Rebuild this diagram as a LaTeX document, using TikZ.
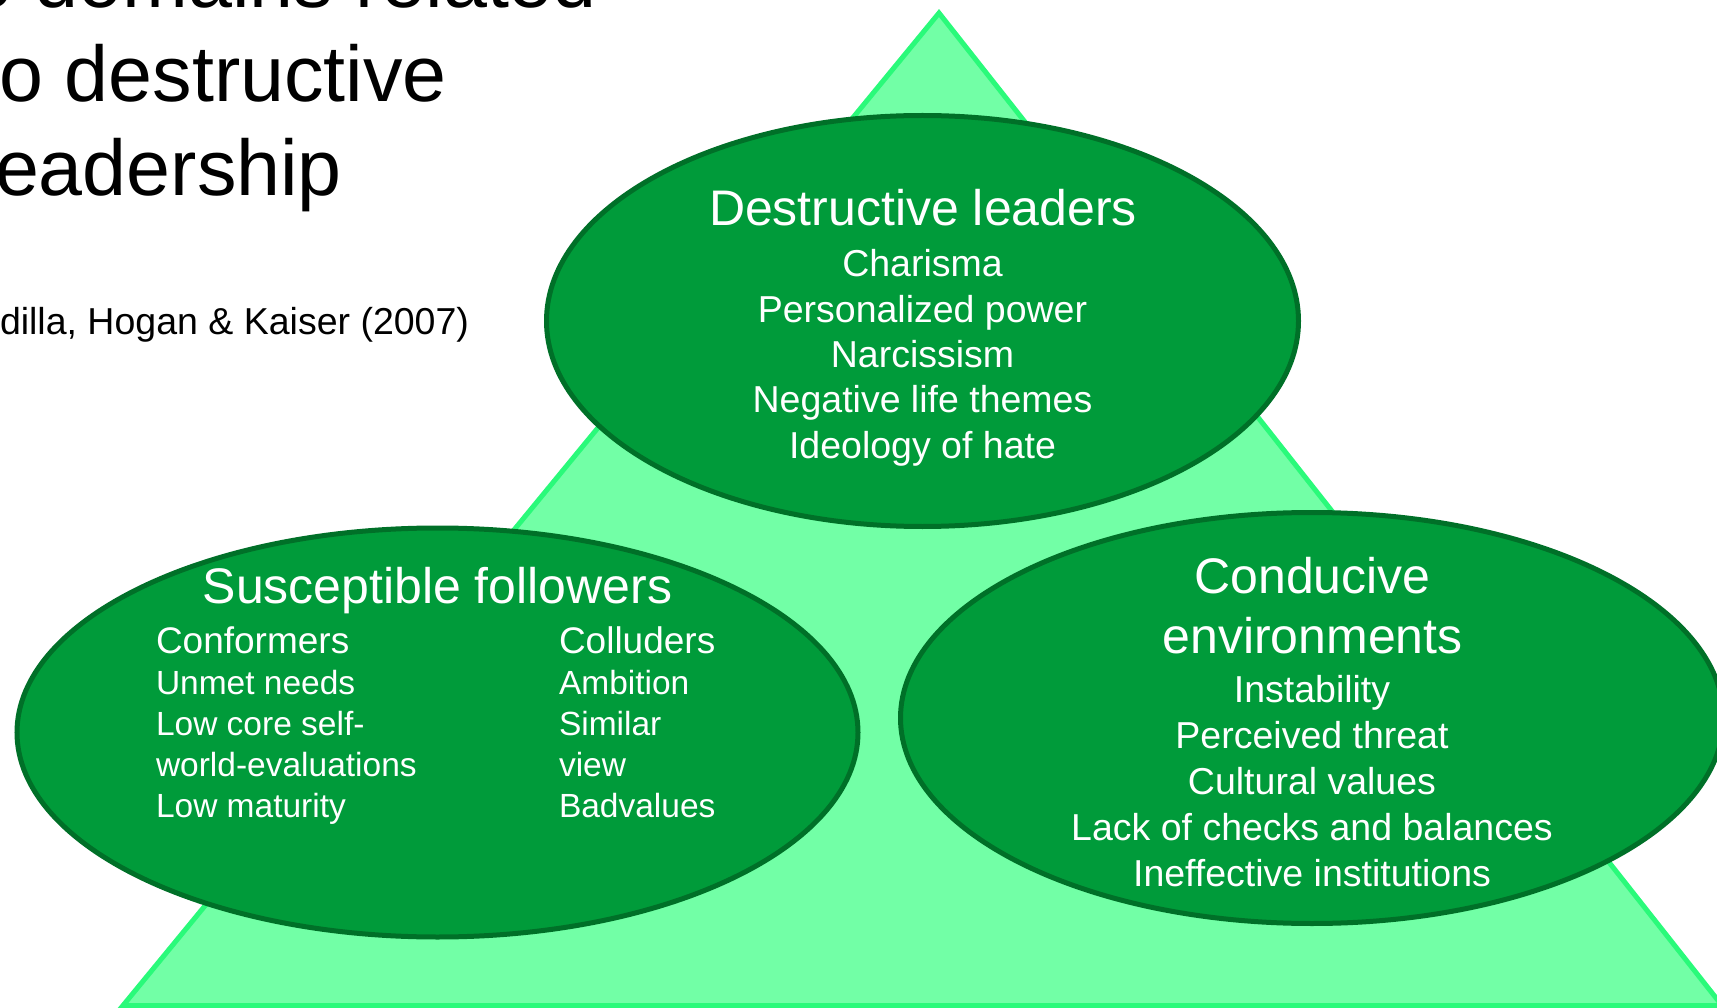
\documentclass[tikz,border=0pt]{standalone}
\usepackage{fontspec}
\setmainfont{Liberation Sans}
\usetikzlibrary{shapes.geometric}

\begin{document}
\begin{tikzpicture}[x=1pt, y=-1pt]
    \tikzstyle{every node} = [inner sep=0pt, outer sep=0pt, text=white]
    \tikzstyle{dom}  = [ellipse, draw=verdeinchis, fill=verde, line width=5pt]
    \tikzstyle{head} = [anchor=base, font=\fontsize{50}{60}\selectfont]
    \tikzstyle{itm}  = [anchor=base, font=\fontsize{37.5}{45}\selectfont]
    \tikzstyle{itmw} = [itm, anchor=base west]
    \tikzstyle{col}  = [anchor=base west, font=\fontsize{33.5}{40}\selectfont]
    \tikzstyle{colh} = [anchor=base west, font=\fontsize{37}{40}\selectfont]
    \tikzstyle{tlu}  = [anchor=base west, text=black, font=\fontsize{79}{94}\selectfont]

    \definecolor{triunghi}{RGB}{114,255,166}
    \definecolor{margine}{RGB}{42,250,122}
    \definecolor{verde}{RGB}{0,155,58}
    \definecolor{verdeinchis}{RGB}{0,112,40}

    \useasboundingbox (0,0) rectangle (1717,1008);
    \clip (0,0) rectangle (1717,1008);

    % title, cut by the page edge
    \node[tlu] (t1) at (-31,8) {e domains related};
    \node[tlu] (t2) at (-1,102) {o destructive};
    \node[tlu] (t3) at (-5,196) {eadership};
    \node[itmw, text=black] (cit) at (0,335) {dilla, Hogan \& Kaiser (2007)};

    % the triangle
    \draw[fill=triunghi, draw=margine, line width=5pt] (939,13) -- (1722,1005.5) -- (123,1005.5) -- cycle;

    % three domains
    \node[dom, minimum width=752pt, minimum height=411pt] (lead) at (922.5,321) {};
    \node[dom, minimum width=841pt, minimum height=409pt] (foll) at (437.5,732.5) {};
    \node[dom, minimum width=823pt, minimum height=411pt] (env) at (1312,718) {};

    \node[head] (lead-h) at (923,226) {Destructive leaders};
    \foreach[count=\i] \t in {Charisma, Personalized power, Narcissism, Negative life themes, Ideology of hate}
        \node[itm] (lead-\i) at (922.5,231.3+45.4*\i) {\t};

    \node[head] (foll-h) at (437.5,603) {Susceptible followers};
    \node[colh] (conf-1) at (156,653.5) {Conformers};
    \node[colh] (coll-1) at (559,653.5) {Colluders};
    \foreach[count=\i from 2] \t in {Unmet needs, Low core self-, world-evaluations, Low maturity}
        \node[col] (conf-\i) at (156,612.5+41*\i) {\t};
    \foreach[count=\i from 2] \t in {Ambition, Similar, view, Badvalues}
        \node[col] (coll-\i) at (559,612.5+41*\i) {\t};

    \node[head] (env-h1) at (1312.5,593) {Conducive};
    \node[head] (env-h2) at (1312.5,653) {environments};
    \foreach[count=\i] \t in {Instability, Perceived threat, Cultural values, Lack of checks and balances, Ineffective institutions}
        \node[itm] (env-\i) at (1312,656+46*\i) {\t};
\end{tikzpicture}
\end{document}
